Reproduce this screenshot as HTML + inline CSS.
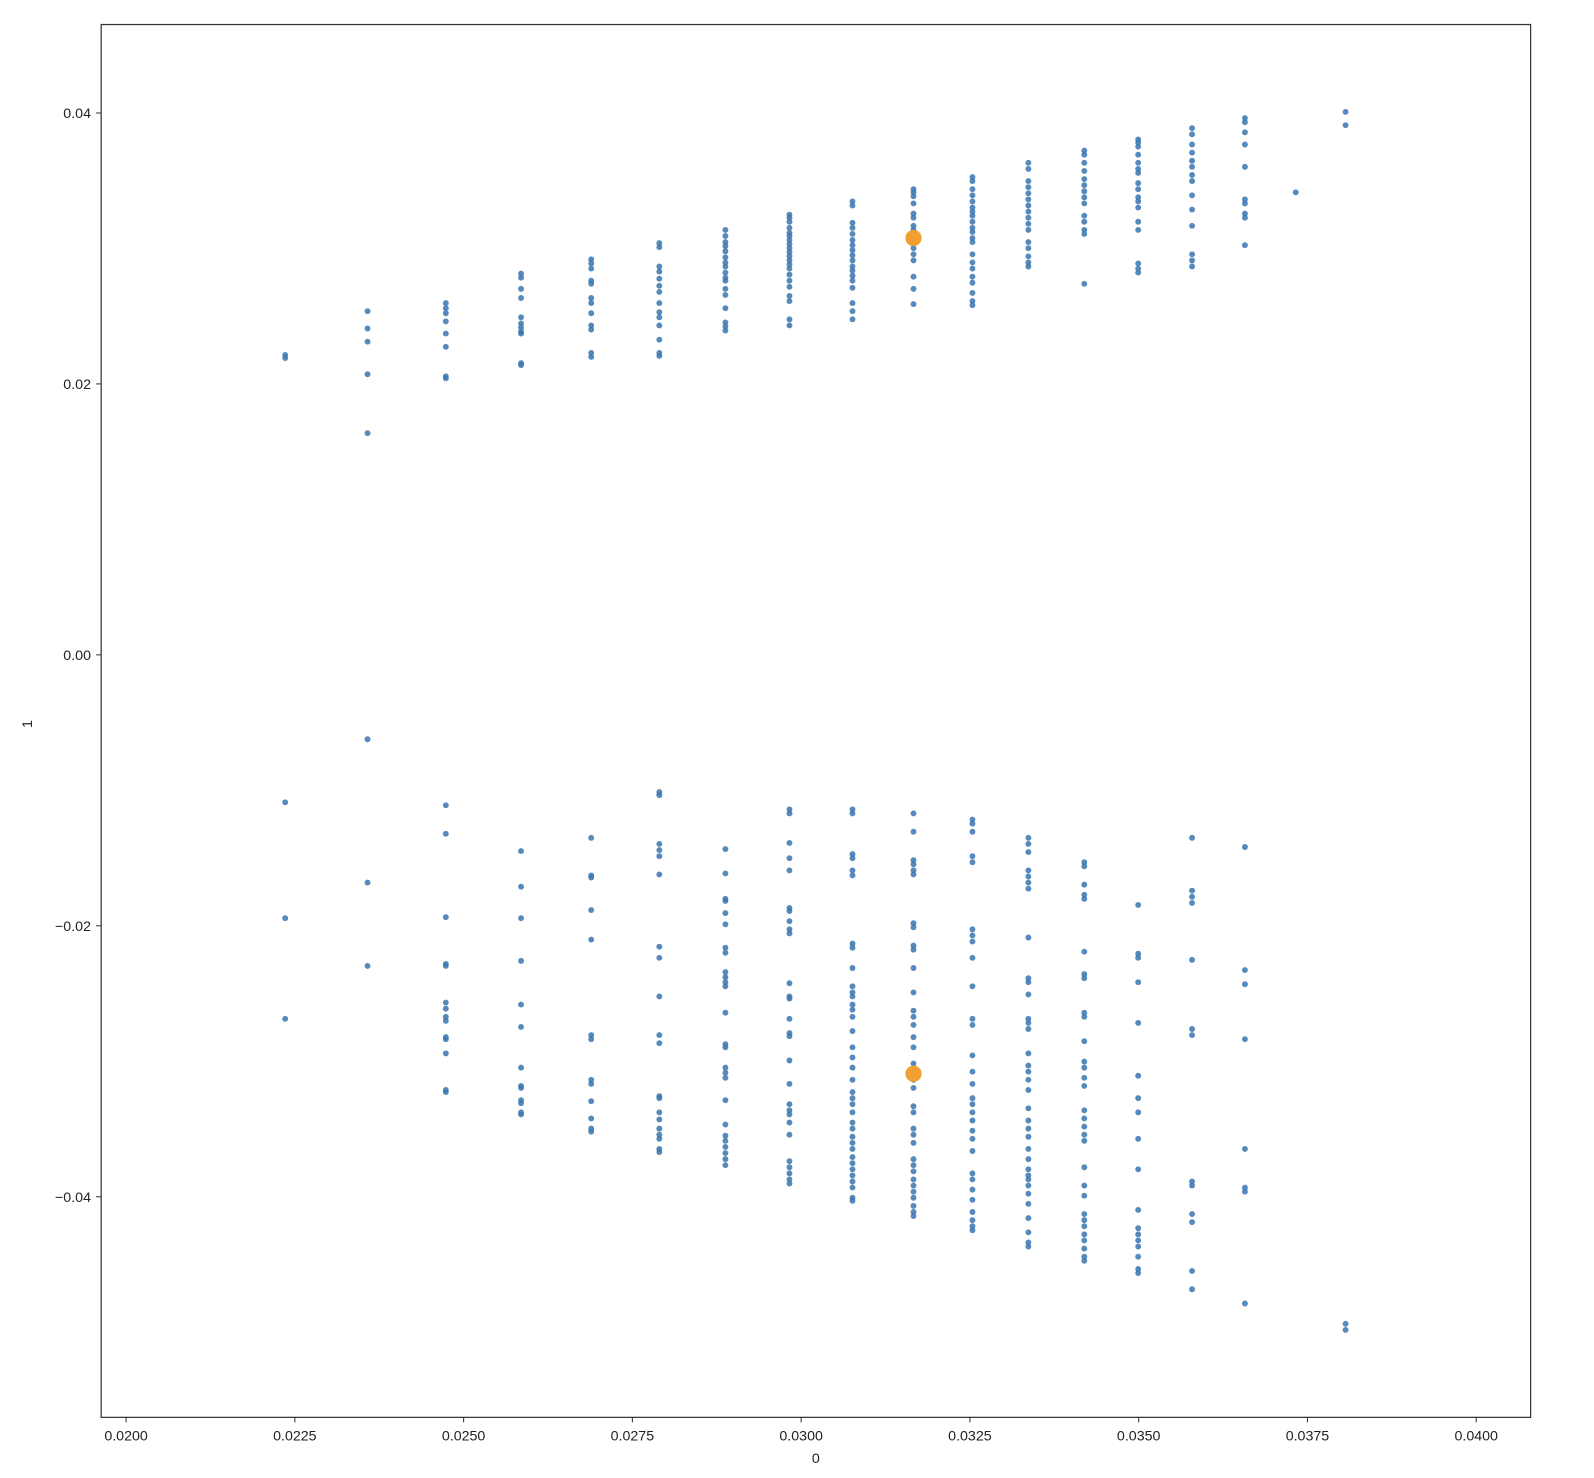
<!DOCTYPE html>
<html><head><meta charset="utf-8"><style>html,body{margin:0;padding:0;background:#fff}svg{display:block}</style></head>
<body>
<svg id="s" width="1594" height="1478" viewBox="0 0 1560 1446.5" xmlns="http://www.w3.org/2000/svg" font-family="Liberation Sans, DejaVu Sans, sans-serif" font-size="14" fill="#222">
<rect x="0" y="0" width="1560" height="1447" fill="#fff"/>
<g transform="translate(99,24) scale(0.995) translate(-99,-24)">
<g id="pts" fill="#3a75b0" fill-opacity="0.85"></g>
<circle cx="898" cy="234" r="8" fill="#f0a030"/>
<circle cx="898" cy="1056" r="8" fill="#f0a030"/>
<rect x="99" y="24" width="1406" height="1370" fill="none" stroke="#333" stroke-width="1.2"/>
<g stroke="#333" stroke-width="1">
<line x1="123.5" y1="1394" x2="123.5" y2="1399"/><line x1="289.5" y1="1394" x2="289.5" y2="1399"/><line x1="455.5" y1="1394" x2="455.5" y2="1399"/><line x1="621.5" y1="1394" x2="621.5" y2="1399"/><line x1="787.5" y1="1394" x2="787.5" y2="1399"/><line x1="953.5" y1="1394" x2="953.5" y2="1399"/><line x1="1119.5" y1="1394" x2="1119.5" y2="1399"/><line x1="1285.5" y1="1394" x2="1285.5" y2="1399"/><line x1="1451.5" y1="1394" x2="1451.5" y2="1399"/>
<line x1="94" y1="111" x2="99" y2="111"/><line x1="94" y1="377.5" x2="99" y2="377.5"/><line x1="94" y1="644" x2="99" y2="644"/><line x1="94" y1="910.5" x2="99" y2="910.5"/><line x1="94" y1="1177" x2="99" y2="1177"/>
</g>
<g text-anchor="middle">
<text x="123.5" y="1417">0.0200</text><text x="289.5" y="1417">0.0225</text><text x="455.5" y="1417">0.0250</text><text x="621.5" y="1417">0.0275</text><text x="787.5" y="1417">0.0300</text><text x="953.5" y="1417">0.0325</text><text x="1119.5" y="1417">0.0350</text><text x="1285.5" y="1417">0.0375</text><text x="1451.5" y="1417">0.0400</text>
<text x="802" y="1439">0</text>
</g>
<g text-anchor="end">
<text x="89" y="116">0.04</text><text x="89" y="382.5">0.02</text><text x="89" y="649">0.00</text><text x="89" y="915.5">−0.02</text><text x="89" y="1182">−0.04</text>
</g>
<text x="31" y="712" text-anchor="middle" transform="rotate(-90 31 712)">1</text>
</g>
</svg>
<script>
var d={280:[349,352,789,903,1002],
361:[306,323,336,368,426,727,868,950],
438:[298,303,308,316,328,341,370,372,792,820,902,948,950,986,992,1000,1004,1020,1022,1036,1072,1074],
512:[269,273,284,293,312,318,322,326,328,357,359,837,872,903,945,988,1010,1050,1068,1070,1082,1085,1094,1096],
581:[255,259,264,276,279,293,298,308,320,324,347,351,824,861,863,895,924,1018,1022,1062,1066,1083,1100,1110,1113],
648:[239,243,262,267,274,281,287,298,307,312,320,334,347,350,779,782,830,836,842,860,931,942,980,1018,1026,1078,1080,1094,1101,1110,1116,1120,1130,1133],
713:[226,232,238,242,247,253,258,262,268,273,276,284,290,303,317,321,325,835,859,884,886,898,909,932,937,956,961,966,970,996,1027,1030,1050,1055,1060,1082,1106,1117,1122,1128,1134,1140,1146],
776:[211,214,218,224,229,232,236,240,244,248,252,256,260,264,270,276,282,291,296,314,320,796,800,829,844,856,893,896,906,914,918,967,980,982,1002,1016,1019,1043,1066,1086,1092,1096,1104,1116,1142,1148,1154,1160,1164],
838:[198,202,219,224,230,236,241,246,251,256,262,266,271,276,283,298,306,314,796,800,840,844,856,861,928,932,952,970,976,980,988,993,1000,1014,1030,1040,1050,1062,1074,1080,1086,1094,1104,1110,1118,1124,1130,1138,1144,1150,1156,1162,1168,1178,1181],
898:[186,189,193,200,210,214,222,226,232,244,250,256,272,284,299,800,818,846,850,856,860,908,912,930,934,952,976,994,1000,1008,1020,1030,1046,1062,1070,1088,1094,1110,1116,1124,1140,1146,1152,1160,1166,1172,1178,1186,1192,1196],
956:[174,178,186,192,198,204,208,212,218,224,228,234,238,250,258,264,272,278,288,296,300,806,810,818,842,848,914,920,926,942,970,1002,1008,1038,1054,1066,1080,1086,1094,1102,1112,1120,1132,1154,1160,1170,1180,1192,1200,1206,1210],
1011:[160,166,178,184,190,196,202,208,214,220,226,238,244,252,258,262,824,830,838,856,862,868,874,922,962,966,978,1002,1006,1012,1036,1048,1054,1062,1072,1090,1102,1110,1118,1130,1140,1150,1156,1160,1166,1174,1184,1198,1212,1222,1226],
1066:[148,152,160,168,176,182,188,194,200,212,218,226,230,279,848,852,870,880,884,936,958,962,996,1000,1024,1044,1050,1060,1068,1092,1100,1108,1116,1122,1148,1166,1176,1194,1200,1206,1214,1220,1228,1236,1240],
1119:[137,140,144,152,160,166,170,180,186,194,198,204,218,226,259,264,268,890,938,942,966,1006,1058,1080,1094,1120,1150,1190,1208,1214,1220,1226,1236,1248,1252],
1172:[126,132,142,150,158,164,172,178,192,206,222,250,256,262,824,876,882,888,944,1012,1018,1162,1166,1194,1202,1250,1268],
1224:[116,120,130,142,164,196,200,210,214,241,833,954,968,1022,1130,1168,1172,1282],
1274:[189],1323:[110,123,1302,1308]};
var g=document.getElementById('pts'),ns='http://www.w3.org/2000/svg';
for(var x in d){d[x].forEach(function(y){var c=document.createElementNS(ns,'circle');c.setAttribute('cx',x);c.setAttribute('cy',y);c.setAttribute('r',2.9);g.appendChild(c);});}
</script>
</body></html>
